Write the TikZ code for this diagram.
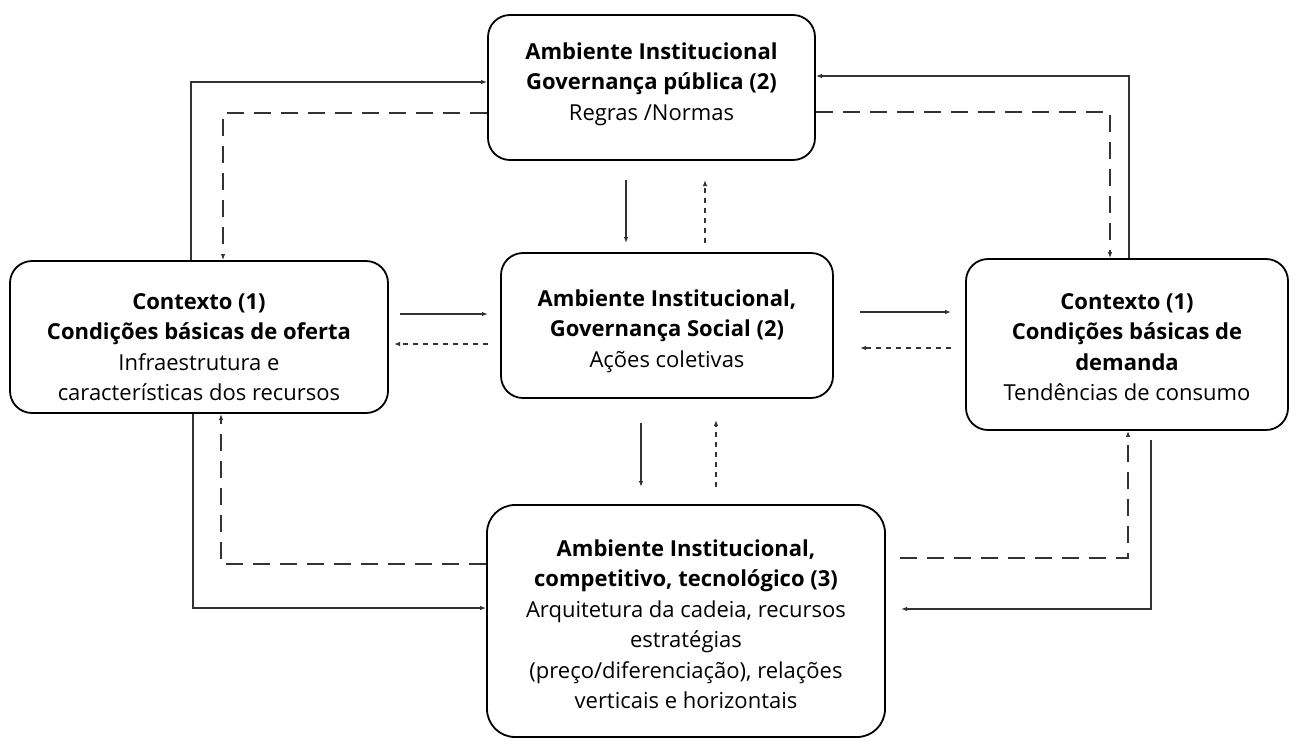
\documentclass[tikz,border=0pt]{standalone}
\usepackage{fontspec}
\setmainfont{Open Sans}
\usetikzlibrary{arrows.meta}
\begin{document}
\begin{tikzpicture}[x=1pt,y=-1pt,
  box/.style={draw=black,line width=1.8pt,rounded corners=22pt,inner sep=0pt},
  txt/.style={align=center,font=\fontsize{22}{30.5}\selectfont,inner sep=0pt},
  conn/.style={line width=1.5pt,draw=black!80,-{Latex[length=6pt,width=4.5pt]}},
  bigdash/.style={conn,line width=1.8pt,dash pattern=on 17pt off 10pt},
  smalldash/.style={conn,line width=1.1pt,dash pattern=on 5pt off 5pt}]
\useasboundingbox (0,0) rectangle (1298,740);
% boxes
\node[box,minimum width=327pt,minimum height=145pt] (top) at (651.5,87.5) {};
\node[box,minimum width=378pt,minimum height=152pt] (left) at (199,337) {};
\node[box,minimum width=332pt,minimum height=145pt] (mid) at (667,325.5) {};
\node[box,minimum width=322pt,minimum height=171pt] (right) at (1127,344.5) {};
\node[box,rounded corners=28pt,minimum width=398pt,minimum height=232pt] (bot) at (686,621) {};
% texts
\node[txt] (toptxt) at (651.5,84) {\textbf{Ambiente Institucional}\\\textbf{Governança pública (2)}\\Regras /Normas};
\node[txt] (lefttxt) at (199,347) {\textbf{Contexto (1)}\\\textbf{Condições básicas de oferta}\\Infraestrutura e\\características dos recursos};
\node[txt] (midtxt) at (667,331) {\textbf{Ambiente Institucional,}\\\textbf{Governança Social (2)}\\Ações coletivas};
\node[txt] (righttxt) at (1127,347) {\textbf{Contexto (1)}\\\textbf{Condições básicas de}\\\textbf{demanda}\\Tendências de consumo};
\node[txt] (bottxt) at (686,624) {\textbf{Ambiente Institucional,}\\\textbf{competitivo, tecnológico (3)}\\Arquitetura da cadeia, recursos\\estratégias\\(preço/diferenciação), relações\\verticais e horizontais};
% top-left loop
\draw[conn] (left.north -| 191,0) |- (top.west |- 0,82);
\draw[bigdash] (top.west |- 0,113) -| (left.north -| 223,0);
% top-right loop
\draw[conn] (right.north -| 1129,0) |- (top.east |- 0,76);
\draw[bigdash] (top.east |- 0,112) -| (right.north -| 1110,0);
% top-mid
\coordinate (tm1) at (626,180);
\coordinate (tm2) at (705,243);
\draw[conn] (tm1) -- (tm1 |- tm2);
\draw[smalldash] (tm2) -- (tm2 |- tm1);
% mid-left
\coordinate (ml1) at (400,314);
\coordinate (ml2) at (488,344);
\draw[conn] (ml1) -- (ml1 -| ml2);
\draw[smalldash] (ml2) -- (ml2 -| 394,0);
% mid-right
\coordinate (mr1) at (860,312);
\coordinate (mr2) at (951,348);
\draw[conn] (mr1) -- (mr1 -| mr2);
\draw[smalldash] (mr2) -- (mr2 -| mr1);
% mid-bottom
\coordinate (mb1) at (641,423);
\coordinate (mb2) at (716,487);
\draw[conn] (mb1) -- (mb1 |- mb2);
\draw[smalldash] (mb2) -- (mb2 |- 0,420);
% bottom-left loop
\draw[bigdash] (bot.west |- 0,564) -| (left.south -| 221,0);
\draw[conn] (left.south -| 193,0) |- (bot.west |- 0,608);
% bottom-right loop
\draw[bigdash] (900,558) -| (right.south -| 1128,0);
\draw[conn] (1151,440) |- (901,609);
\end{tikzpicture}
\end{document}
